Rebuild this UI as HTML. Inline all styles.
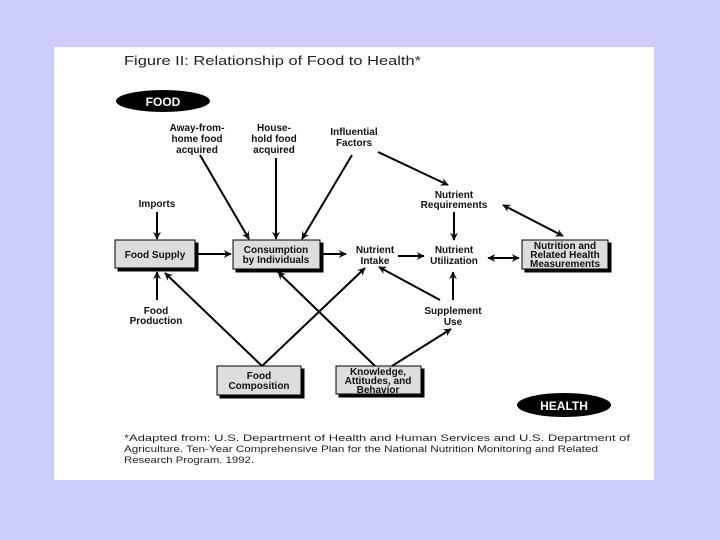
<!DOCTYPE html>
<html><head><meta charset="utf-8"><style>
html,body{margin:0;padding:0;background:#ccccff;}
svg{display:block;}
text{font-family:"Liberation Sans",Arial,sans-serif;}
.l{font-size:10px;font-weight:bold;text-anchor:middle;fill:#111;}
</style></head><body>
<svg width="720" height="540" viewBox="0 0 720 540" xmlns="http://www.w3.org/2000/svg">
<defs>
<marker id="a" viewBox="0 0 10 10" refX="9" refY="5" markerWidth="10" markerHeight="8" orient="auto-start-reverse" markerUnits="userSpaceOnUse">
<path d="M0,0 L10,5 L0,10 L3,5 z" fill="#111"/></marker>
</defs>
<rect x="0" y="0" width="720" height="540" fill="#ccccff"/>
<rect x="54" y="47" width="600" height="433" fill="#fff"/>
<text x="124" y="65" font-size="13" fill="#222" textLength="297" lengthAdjust="spacingAndGlyphs">Figure II: Relationship of Food to Health*</text>
<ellipse cx="163" cy="101" rx="47" ry="11" fill="#000"/>
<text x="163" y="106" font-size="12" font-weight="bold" fill="#fff" text-anchor="middle">FOOD</text>
<ellipse cx="564" cy="405" rx="47" ry="12" fill="#000"/>
<text x="564" y="410" font-size="12" font-weight="bold" fill="#fff" text-anchor="middle">HEALTH</text>

<text class="l" x="197" y="131">Away-from-</text><text class="l" x="197" y="142">home food</text><text class="l" x="197" y="153">acquired</text>
<text class="l" x="274" y="131">House-</text><text class="l" x="274" y="142">hold food</text><text class="l" x="274" y="153">acquired</text>
<text class="l" x="354" y="135">Influential</text><text class="l" x="354" y="146">Factors</text>
<text class="l" x="157" y="207">Imports</text>
<text class="l" x="375" y="253">Nutrient</text><text class="l" x="375" y="264">Intake</text>
<text class="l" x="454" y="253">Nutrient</text><text class="l" x="454" y="264">Utilization</text>
<text class="l" x="454" y="198">Nutrient</text><text class="l" x="454" y="208">Requirements</text>
<text class="l" x="453" y="314">Supplement</text><text class="l" x="453" y="325">Use</text>
<text class="l" x="156" y="314">Food</text><text class="l" x="156" y="324">Production</text>

<g stroke="#000" stroke-width="1">
<rect x="118" y="243" width="80" height="28" fill="#000"/>
<rect x="115" y="240" width="80" height="28" fill="#ddd"/>
<rect x="236" y="243" width="87" height="29" fill="#000"/>
<rect x="233" y="240" width="87" height="29" fill="#ddd"/>
<rect x="525" y="243" width="86" height="29" fill="#000"/>
<rect x="522" y="240" width="86" height="29" fill="#ddd"/>
<rect x="220" y="369" width="84" height="29" fill="#000"/>
<rect x="217" y="366" width="84" height="29" fill="#ddd"/>
<rect x="339" y="369" width="85" height="28" fill="#000"/>
<rect x="336" y="366" width="85" height="28" fill="#ddd"/>
</g>
<text class="l" x="155" y="258">Food Supply</text>
<text class="l" x="276" y="253">Consumption</text><text class="l" x="276" y="263">by Individuals</text>
<text class="l" x="565" y="249">Nutrition and</text><text class="l" x="565" y="258">Related Health</text><text class="l" x="565" y="267">Measurements</text>
<text class="l" x="259" y="379">Food</text><text class="l" x="259" y="389">Composition</text>
<text class="l" x="378" y="375">Knowledge,</text><text class="l" x="378" y="384">Attitudes, and</text><text class="l" x="378" y="393">Behavior</text>

<g stroke="#000" stroke-width="2" fill="none" marker-end="url(#a)">
<line x1="200" y1="155" x2="249" y2="239"/>
<line x1="276" y1="158" x2="276" y2="239"/>
<line x1="352" y1="155" x2="302" y2="239"/>
<line x1="378" y1="152" x2="448" y2="185"/>
<line x1="157" y1="212" x2="157" y2="239"/>
<line x1="198" y1="254" x2="231" y2="254"/>
<line x1="322" y1="254" x2="346" y2="254"/>
<line x1="398" y1="256" x2="424" y2="256"/>
<line x1="454" y1="212" x2="454" y2="240"/>
<line x1="453" y1="300" x2="453" y2="272"/>
<line x1="440" y1="300" x2="379" y2="267"/>
<line x1="157" y1="300" x2="157" y2="272"/>
<line x1="262" y1="366" x2="165" y2="273"/>
<line x1="262" y1="366" x2="365" y2="268"/>
<line x1="375" y1="366" x2="278" y2="272"/>
<line x1="392" y1="366" x2="451" y2="329"/>
<line x1="488" y1="258" x2="519" y2="258" marker-start="url(#a)"/>
<line x1="503" y1="205" x2="563" y2="236" marker-start="url(#a)"/>
</g>

<g font-size="9.5" fill="#222">
<text x="124" y="441" textLength="506" lengthAdjust="spacingAndGlyphs">*Adapted from: U.S. Department of Health and Human Services and U.S. Department of</text>
<text x="124" y="452" textLength="474" lengthAdjust="spacingAndGlyphs">Agriculture. Ten-Year Comprehensive Plan for the National Nutrition Monitoring and Related</text>
<text x="124" y="463" textLength="130" lengthAdjust="spacingAndGlyphs">Research Program. 1992.</text>
</g>
</svg>
</body></html>
